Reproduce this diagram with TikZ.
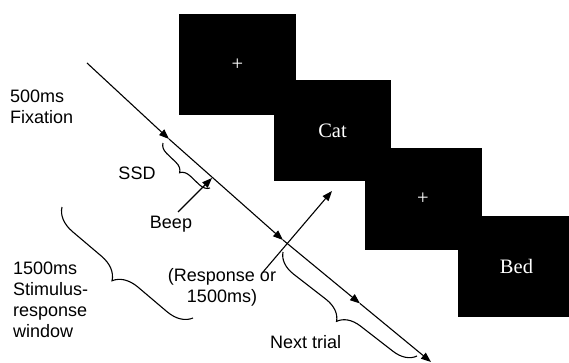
\documentclass[tikz,border=0pt]{standalone}
\usepackage{fontspec}
\setmainfont{Liberation Sans}
\newfontfamily\scrfont{Liberation Serif}
\usetikzlibrary{arrows.meta,decorations.pathreplacing}

\begin{document}
\begin{tikzpicture}[x=1pt,y=-1pt,
  scr/.style={rectangle,fill=black,text=white,minimum width=117pt,minimum height=101pt,
    inner sep=0pt,font=\scrfont\fontsize{20.5}{24}\selectfont},
  lbl/.style={inner sep=0pt,align=left,font=\fontsize{18}{21}\selectfont},
  tl/.style={line width=1.1pt},
  arr/.style={tl,-{Triangle[length=10pt,width=7.5pt]}},
  brc/.style={tl,decorate,decoration={brace,amplitude=#1}}]
  \clip (0,0) rectangle (569,363);
  \node[scr] (s1) at (237.5,64.5) {+};
  \node[scr] (s2) at (332.5,131) {Cat};
  \node[scr] (s3) at (423,199) {+};
  \node[scr] (s4) at (516.5,266) {Bed};

  \coordinate (t0) at (87,63);
  \coordinate (t1) at (169,139);
  \coordinate (t2) at (283,240);
  \coordinate (t3) at (360,303.5);
  \coordinate (t4) at (431,362);
  \draw[arr] (t0) -- (t1);
  \draw[arr] (t1) -- (t2);
  \draw[arr] (t2) -- (t3);
  \draw[arr] (t3) -- (t4);

  \coordinate (b0) at (178,212);
  \coordinate (b1) at (212,178);
  \draw[arr] (b0) -- (b1);
  \coordinate (r0) at (263,272);
  \coordinate (r1) at (332,191);
  \draw[arr] (r0) -- (r1);

  \draw[brc=10pt] (210,188) -- (163,143);
  \draw[brc=24pt] (193,318) -- (62,207);
  \draw[brc=22pt] (417,356) -- (283,252);

  \node[lbl,anchor=base west] (fix) at (10,124) {500ms\\Fixation};
  \node[lbl,anchor=base] (ssd) at (137,179) {SSD};
  \node[lbl,anchor=base] (beep) at (171,228) {Beep};
  \node[lbl,anchor=base west] (win) at (13,337) {1500ms\\Stimulus-\\response\\window};
  \node[lbl,align=center,anchor=base] (resp) at (222,302) {(Response or\\1500ms)};
  \node[lbl,anchor=base west] (next) at (270,348) {Next trial};
\end{tikzpicture}
\end{document}
